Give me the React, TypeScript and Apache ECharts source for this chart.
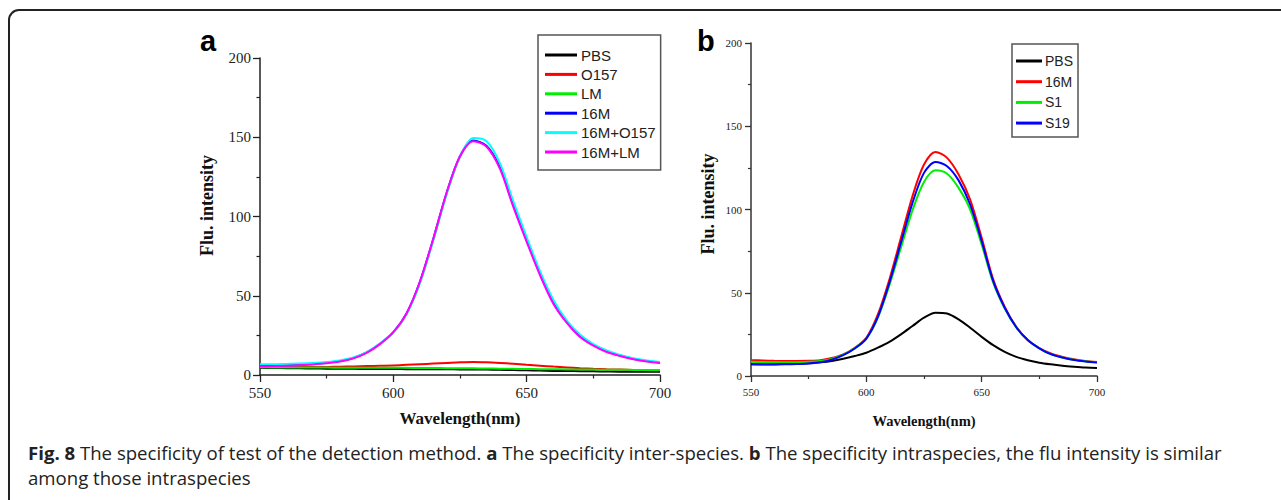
import React, { useEffect, useRef } from "react";
import * as echarts from "echarts";

// ---- data ----
const wavelengths = [
  550, 555, 560, 565, 570, 575, 580, 585, 590, 595, 600, 605, 610, 615, 620, 625,
  630, 635, 640, 645, 650, 655, 660, 665, 670, 675, 680, 685, 690, 695, 700,
];

// Panel a (inter-species)
const aNames = ["PBS", "O157", "LM", "16M", "16M+O157", "16M+LM"];
const aColors = ["#000000", "#ff0000", "#00ee00", "#0000ff", "#00ffff", "#ff00ff"];
const aPBS = [4.5, 4.4, 4.3, 4.2, 4.1, 4.0, 3.9, 3.9, 3.8, 3.8, 3.8, 3.7, 3.7, 3.6, 3.6, 3.5,
  3.5, 3.4, 3.3, 3.1, 3.0, 2.8, 2.6, 2.5, 2.4, 2.3, 2.2, 2.1, 2.1, 2.0, 2.0];
const aO157 = [5.3, 5.2, 5.1, 5.0, 5.0, 5.1, 5.2, 5.4, 5.6, 5.8, 6.0, 6.4, 6.8, 7.2, 7.6, 8.0,
  8.2, 8.0, 7.6, 7.1, 6.5, 5.9, 5.3, 4.8, 4.3, 3.9, 3.6, 3.4, 3.2, 3.0, 2.8];
const aLM = [4.9, 4.8, 4.8, 4.7, 4.7, 4.7, 4.6, 4.6, 4.6, 4.5, 4.5, 4.5, 4.4, 4.4, 4.3, 4.3,
  4.2, 4.1, 4.0, 3.9, 3.8, 3.7, 3.6, 3.5, 3.4, 3.4, 3.3, 3.3, 3.2, 3.2, 3.2];
const a16M = [6.2, 6.2, 6.4, 6.7, 7.1, 7.8, 8.8, 10.7, 14.2, 19.7, 27, 39, 59, 86, 115, 138,
  148, 144.5, 131, 107, 85, 64, 46, 33.5, 24.5, 19, 15, 12.3, 10.3, 8.8, 7.8];
const a16MO157 = [6.8, 6.8, 7.0, 7.2, 7.6, 8.2, 9.2, 11, 14.5, 20, 27, 38.5, 58, 85, 114, 138,
  149.5, 147.5, 133.5, 109.5, 87, 65.5, 47.5, 34.5, 25.5, 19.5, 15.5, 12.7, 10.6, 9.2, 8.2];
const a16MLM = [5.5, 5.6, 5.8, 6.2, 6.7, 7.4, 8.5, 10.5, 14, 19.5, 27, 39, 59, 86, 115, 138,
  147.5, 144, 130, 106, 84, 63, 45, 33, 24, 18.5, 14.5, 12, 10, 8.5, 7.5];

// Panel b (intraspecies)
const bNames = ["PBS", "16M", "S1", "S19"];
const bColors = ["#000000", "#ff0000", "#00ee00", "#0000ff"];
const bPBS = [7, 7, 7.1, 7.2, 7.4, 7.7, 8.2, 9, 10.3, 12, 14, 17, 20.5, 25, 30, 35,
  38, 37.5, 34, 29, 23.5, 18.5, 14.5, 11.5, 9.5, 8, 7, 6.2, 5.6, 5.1, 4.8];
const b16M = [9.5, 9.3, 9.1, 9, 9, 9.1, 9.5, 10.8, 13, 17, 23, 37, 58, 83, 108, 127,
  134.5, 131, 121, 106, 83, 58, 41.5, 29.5, 21.5, 16.8, 13.5, 11.5, 10, 9, 8.4];
const bS1 = [8.5, 8.3, 8.2, 8.2, 8.3, 8.5, 9, 10.3, 12.8, 16.8, 22.5, 35, 54.5, 77, 99.5, 116.5,
  123.5, 121.5, 113, 100, 79, 56, 40.5, 29.2, 21.6, 16.6, 13.1, 11.1, 9.7, 8.8, 8.2];
const bS19 = [7, 6.9, 6.9, 7, 7.2, 7.5, 8.2, 9.8, 12.5, 16.5, 22.5, 35.5, 56, 80, 104, 122,
  128.5, 126, 117.5, 103, 81, 57, 41, 29.3, 21.6, 16.6, 13.1, 11.1, 9.6, 8.7, 8.1];

const xTicks = { min: 550, max: 700, interval: 50 };
const yTicks = { min: 0, max: 200, interval: 50 };

const aSeriesValues = [aPBS, aO157, aLM, a16M, a16MO157, a16MLM];
const bSeriesValues = [bPBS, b16M, bS1, bS19];

const SERIF = "'Liberation Serif', 'Times New Roman', serif";
const SANS = "'Liberation Sans', Arial, sans-serif";
const CAPTION_FONT = "'Open Sans', sans-serif";

function pairs(vals: number[]) {
  return wavelengths.map((w, i) => [w, vals[i]]);
}

function makeAxes(
  gridIndex: number,
  labelSize: number,
  xNameSize: number,
  yNameSize: number,
  tickLen: number,
  yGap: number,
  xGap: number,
  yShift: number,
  lineColor: string
) {
  const axisLine = { show: true, onZero: false, lineStyle: { color: lineColor, width: 1.5 } };
  const common = {
    gridIndex,
    axisLine,
    axisTick: { show: true, inside: false, length: tickLen, lineStyle: { color: lineColor, width: 1.3 } },
    minorTick: { show: true, splitNumber: 2, length: tickLen / 2, lineStyle: { color: lineColor, width: 1.2 } },
    splitLine: { show: false },
    minorSplitLine: { show: false },
  };
  const x = {
    ...common,
    type: "value",
    ...xTicks,
    name: "Wavelength(nm)",
    nameLocation: "middle",
    nameGap: xGap,
    nameTextStyle: { fontFamily: SERIF, fontWeight: "bold", fontSize: xNameSize, color: "#111" },
    axisLabel: { margin: 10, fontFamily: SERIF, fontSize: labelSize, color: "#222" },
  };
  const y = {
    ...common,
    type: "value",
    ...yTicks,
    name: "Flu. intensity",
    nameLocation: "middle",
    nameGap: yGap,
    nameTextStyle: {
      fontFamily: SERIF,
      fontWeight: "bold",
      fontSize: yNameSize,
      color: "#111",
      padding: [0, 0, 0, yShift * 2],
    },
    axisLabel: { margin: 9, fontFamily: SERIF, fontSize: labelSize, color: "#222" },
  };
  return { x, y };
}

export default function App() {
  const ref = useRef<HTMLDivElement>(null);
  useEffect(() => {
    if (!ref.current) return;
    const chart = echarts.init(ref.current, undefined, { renderer: "svg" });
    const axA = makeAxes(0, 15, 17, 18, 7, 44, 35, 11, "#222");
    const axB = makeAxes(1, 11, 14.5, 18, 6, 34, 37, 5.5, "#333");

    const series: any[] = [];
    aNames.forEach((n, i) => {
      series.push({
        type: "line",
        name: n,
        xAxisIndex: 0,
        yAxisIndex: 0,
        data: pairs(aSeriesValues[i]),
        smooth: 0.3,
        showSymbol: false,
        symbol: "none",
        lineStyle: { color: aColors[i], width: 2 },
        itemStyle: { color: aColors[i] },
        z: 2 + i,
      });
    });
    bNames.forEach((n, i) => {
      series.push({
        type: "line",
        name: n,
        xAxisIndex: 1,
        yAxisIndex: 1,
        data: pairs(bSeriesValues[i]),
        smooth: 0.3,
        showSymbol: false,
        symbol: "none",
        lineStyle: { color: bColors[i], width: 2 },
        itemStyle: { color: bColors[i] },
        z: 2 + i,
      });
    });

    chart.setOption({
      animation: false,
      backgroundColor: "#ffffff",
      grid: [
        { left: 260, top: 58, width: 400, height: 317 },
        { left: 751, top: 43, width: 346, height: 333 },
      ],
      xAxis: [axA.x, axB.x],
      yAxis: [axA.y, axB.y],
      legend: [
        {
          orient: "vertical",
          left: 538,
          top: 35,
          padding: [12, 5, 10, 7],
          itemWidth: 32,
          itemHeight: 3,
          itemGap: 3.4,
          icon: "rect",
          borderColor: "#555",
          borderWidth: 1.5,
          selectedMode: false,
          textStyle: { fontFamily: SANS, fontSize: 15, lineHeight: 16, color: "#222", padding: [0, 0, 0, -1] },
          data: aNames.map((n, i) => ({ name: n, itemStyle: { color: aColors[i] } })),
        },
        {
          orient: "vertical",
          left: 1012,
          top: 44,
          padding: [9, 5, 6, 4],
          itemWidth: 26,
          itemHeight: 3,
          itemGap: 4.7,
          icon: "rect",
          borderColor: "#555",
          borderWidth: 1.5,
          selectedMode: false,
          textStyle: { fontFamily: SANS, fontSize: 14, lineHeight: 16, color: "#222", padding: [0, 0, 0, -2] },
          data: bNames.map((n, i) => ({ name: n, itemStyle: { color: bColors[i] } })),
        },
      ],
      graphic: [
        {
          type: "rect",
          shape: { x: 9, y: 10, width: 1300, height: 520, r: 10 },
          style: { fill: "none", stroke: "#222", lineWidth: 2 },
          silent: true,
        },
        {
          type: "text",
          x: 200,
          y: 40.7,
          style: { text: "a", font: `bold 29px ${SANS}`, fill: "#000", verticalAlign: "middle" },
        },
        {
          type: "text",
          x: 697,
          y: 40.7,
          style: { text: "b", font: `bold 29px ${SANS}`, fill: "#000", verticalAlign: "middle" },
        },
        {
          type: "text",
          x: 28,
          y: 452,
          style: {
            text: "{b|Fig. 8} The specificity of test of the detection method. {b|a} The specificity inter-species. {b|b} The specificity intraspecies, the flu intensity is similar",
            font: `18.6px ${CAPTION_FONT}`,
            fill: "#222",
            verticalAlign: "middle",
            rich: {
              b: { fontFamily: CAPTION_FONT, fontWeight: "bold", fontSize: 18.6, fill: "#222" },
            },
          },
        },
        {
          type: "text",
          x: 28,
          y: 477,
          style: {
            text: "among those intraspecies",
            font: `18.6px ${CAPTION_FONT}`,
            fill: "#222",
            verticalAlign: "middle",
          },
        },
      ],
      series,
    });
    return () => chart.dispose();
  }, []);
  return (
    <div
      ref={ref}
      style={{ position: "fixed", left: 0, top: 0, width: 1281, height: 500, background: "#fff" }}
    />
  );
}
